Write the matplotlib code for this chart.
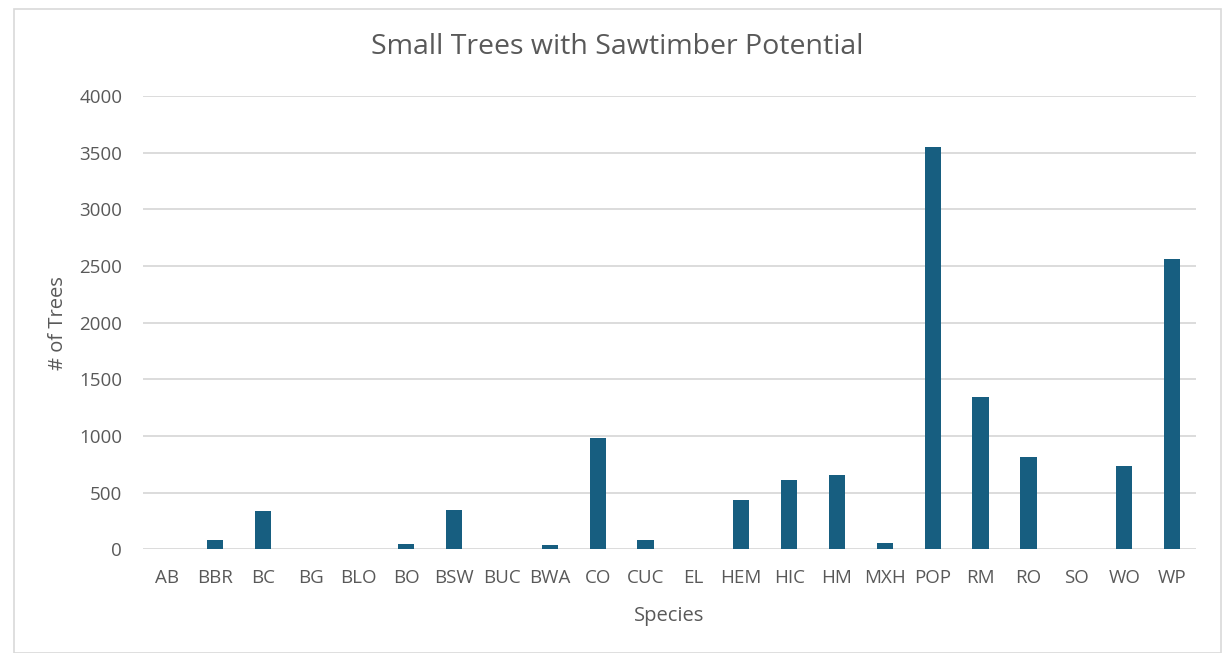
import matplotlib.pyplot as plt
from matplotlib.patches import Rectangle

species = ['AB', 'BBR', 'BC', 'BG', 'BLO', 'BO', 'BSW', 'BUC', 'BWA', 'CO', 'CUC',
           'EL', 'HEM', 'HIC', 'HM', 'MXH', 'POP', 'RM', 'RO', 'SO', 'WO', 'WP']
trees = [0, 85, 335, 0, 0, 50, 350, 0, 35, 985, 85,
         0, 438, 608, 657, 52, 3550, 1345, 815, 0, 737, 2560]
y_ticks = [0, 500, 1000, 1500, 2000, 2500, 3000, 3500, 4000]

W, H = 1226, 653
plt.rcParams['font.family'] = ['Open Sans', 'DejaVu Sans']

fig = plt.figure(figsize=(W / 100, H / 100), dpi=100)

# chart area border (Excel style, sitting on the sheet)
fig.patches.append(Rectangle((14 / W, 0), (1221 - 14) / W, (H - 9) / H,
                             transform=fig.transFigure, fill=False,
                             edgecolor='#D9D9D9', linewidth=1.2))

ax = fig.add_axes([143 / W, (H - 549.3) / H, (1196 - 143) / W, (549.3 - 96) / H])
x = range(len(species))
ax.bar(x, trees, width=0.34, color='#175E80', zorder=3)

ax.set_ylim(0, 4000)
ax.set_xlim(-0.5, len(species) - 0.5)
ax.set_yticks(y_ticks)
ax.set_xticks(list(x))
ax.set_xticklabels(species)
ax.grid(axis='y', color='#D9D9D9', linewidth=1.3, zorder=0)
for s in ax.spines.values():
    s.set_visible(False)
ax.tick_params(length=0, labelsize=13.5, colors='#595959')
ax.tick_params(axis='x', pad=14)
ax.tick_params(axis='y', pad=15)

ax.set_xlabel('Species', fontsize=14.5, color='#595959', labelpad=14)
ax.set_ylabel('# of Trees', fontsize=14.5, color='#595959', labelpad=8)
fig.text(617 / W, (H - 47) / H, 'Small Trees with Sawtimber Potential',
         ha='center', va='center', fontsize=20.5, color='#595959')

fig.savefig('out.png', dpi=100)
